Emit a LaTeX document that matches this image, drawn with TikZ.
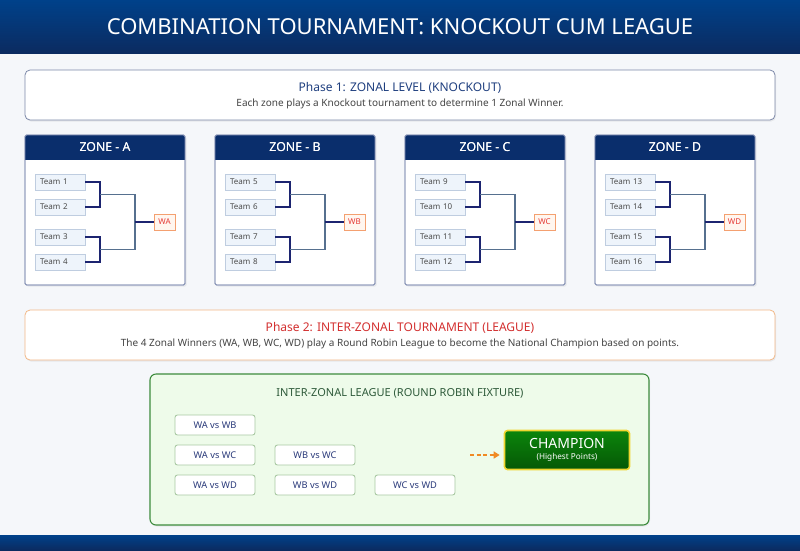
\documentclass[tikz,border=0pt]{standalone}
\usepackage{fontspec}
\setmainfont{Noto Sans}
\usetikzlibrary{arrows.meta,shadows,calc}
\definecolor{bgc}{HTML}{F5F7FA}
\definecolor{hdrtop}{HTML}{00418A}
\definecolor{hdrbot}{HTML}{0B2B60}
\definecolor{zonehdr}{HTML}{0A2E6C}
\definecolor{zoneborder}{HTML}{8A96B8}
\definecolor{phaseborder}{HTML}{7C88A8}
\definecolor{phaseblue}{HTML}{1F3F7F}
\definecolor{subgray}{HTML}{444444}
\definecolor{teamfill}{HTML}{EEF4FB}
\definecolor{teamborder}{HTML}{BFCDE0}
\definecolor{teamtext}{HTML}{4A4A4A}
\definecolor{navyline}{HTML}{1C2470}
\definecolor{slateline}{HTML}{56708F}
\definecolor{winborder}{HTML}{F4A070}
\definecolor{winfill}{HTML}{FFF6EF}
\definecolor{wintext}{HTML}{E53935}
\definecolor{p2border}{HTML}{F2B887}
\definecolor{p2red}{HTML}{D32F2F}
\definecolor{leaguefill}{HTML}{EEFBEA}
\definecolor{leagueborder}{HTML}{3D8B3D}
\definecolor{leaguetitle}{HTML}{2E5A3A}
\definecolor{matchborder}{HTML}{A9C9A3}
\definecolor{matchtext}{HTML}{2A3A7A}
\definecolor{champtop}{HTML}{0B850B}
\definecolor{champbot}{HTML}{065806}
\definecolor{champborder}{HTML}{F0D530}
\definecolor{arroworange}{HTML}{F08A24}
\tikzset{
  phasebox/.style={draw=#1, line width=0.8pt, rounded corners=5pt, fill=white,
    minimum width=750pt, minimum height=50pt, inner sep=0pt,
    drop shadow={opacity=0.12, shadow xshift=1pt, shadow yshift=-1.5pt}},
  zonebox/.style={draw=zoneborder, line width=0.9pt, rounded corners=1.5pt, fill=white,
    minimum width=160pt, minimum height=150pt, inner sep=0pt,
    drop shadow={opacity=0.12, shadow xshift=1.5pt, shadow yshift=-1.5pt}},
  zonehead/.style={fill=zonehdr, minimum width=160pt, minimum height=25pt, inner sep=0pt,
    text=white, font=\fontsize{12.3}{14}\selectfont},
  teambox/.style={draw=teamborder, fill=teamfill, line width=0.7pt, minimum width=50pt,
    minimum height=16pt, inner sep=0pt, text=teamtext, font=\fontsize{8}{9}\selectfont,
    text width=40pt, align=left},
  winbox/.style={draw=winborder, fill=winfill, line width=0.8pt, minimum width=21pt,
    minimum height=16pt, inner sep=0pt, text=wintext, font=\fontsize{8}{9}\selectfont},
  navy/.style={draw=navyline, line width=1.1pt},
  slate/.style={draw=slateline, line width=1.3pt},
  matchbox/.style={draw=matchborder, fill=white, line width=0.9pt, rounded corners=2.5pt,
    minimum width=80pt, minimum height=20pt, inner sep=0pt, text=matchtext,
    font=\fontsize{9.3}{11}\selectfont},
}
\begin{document}
\begin{tikzpicture}[x=1pt,y=-1pt]
\useasboundingbox (0,0) rectangle (800,550);
\fill[bgc] (0,0) rectangle (800,550);
% header
\shade[top color=hdrtop, bottom color=hdrbot] (0,0) rectangle (800,53);
\node[text=white, font=\fontsize{22}{25}\selectfont] (title) at (400,27) {COMBINATION TOURNAMENT: KNOCKOUT CUM LEAGUE};
% footer
\shade[top color=hdrtop, bottom color=hdrbot] (0,535) rectangle (800,550);

% phase 1
\node[phasebox=phaseborder] (phase1) at (400,95) {};
\node[text=phaseblue, font=\fontsize{12}{14}\selectfont] (p1title) at (400,88) {Phase 1: ZONAL LEVEL (KNOCKOUT)};
\node[text=subgray, font=\fontsize{10}{12}\selectfont] (p1sub) at (400,104) {Each zone plays a Knockout tournament to determine 1 Zonal Winner.};

% zones
\foreach \z/\ox/\n in {A/0/1, B/190/5, C/380/9, D/570/13}{
  \pgfmathtruncatemacro{\na}{\n}
  \pgfmathtruncatemacro{\nb}{\n+1}
  \pgfmathtruncatemacro{\nc}{\n+2}
  \pgfmathtruncatemacro{\nd}{\n+3}
  \node[zonebox] (zone\z) at (105+\ox,210) {};
  \begin{scope}
    \clip[rounded corners=1.5pt] (25+\ox,135) rectangle (185+\ox,285);
    \node[zonehead] (head\z) at (105+\ox,147.5) {ZONE - \z};
  \end{scope}
  \draw[zoneborder, line width=0.9pt, rounded corners=1.5pt] (25+\ox,135) rectangle (185+\ox,285);
  \node[zonehead, fill=none] (headtxt\z) at (105+\ox,147.5) {ZONE - \z};
  \node[teambox] (t\na) at (60+\ox,182) {Team \na};
  \node[teambox] (t\nb) at (60+\ox,207) {Team \nb};
  \node[teambox] (t\nc) at (60+\ox,237) {Team \nc};
  \node[teambox] (t\nd) at (60+\ox,262) {Team \nd};
  \node[winbox] (w\z) at (164.5+\ox,222) {W\z};
  \coordinate (ja\z) at (100+\ox,194.5);
  \coordinate (jb\z) at (100+\ox,249.5);
  \coordinate (jc\z) at (135+\ox,222);
  \draw[navy] (t\na.east) -| (ja\z) |- (t\nb.east);
  \draw[navy] (t\nc.east) -| (jb\z) |- (t\nd.east);
  \draw[slate] (ja\z) -| (jc\z) |- (jb\z);
  \draw[navy] (jc\z) -- (w\z.west);
}

% phase 2
\node[phasebox=p2border, fill=white] (phase2) at (400,335) {};
\node[text=p2red, font=\fontsize{12}{14}\selectfont] (p2title) at (400,328) {Phase 2: INTER-ZONAL TOURNAMENT (LEAGUE)};
\node[text=subgray, font=\fontsize{10}{12}\selectfont] (p2sub) at (400,344) {The 4 Zonal Winners (WA, WB, WC, WD) play a Round Robin League to become the National Champion based on points.};

% league
\node[draw=leagueborder, fill=leaguefill, line width=1.1pt, rounded corners=6pt,
  minimum width=499pt, minimum height=151pt, inner sep=0pt,
  drop shadow={opacity=0.12, shadow xshift=1pt, shadow yshift=-1.5pt}] (league) at (399.5,449.5) {};
\node[text=leaguetitle, font=\fontsize{11}{13}\selectfont] (ltitle) at (400,393) {INTER-ZONAL LEAGUE (ROUND ROBIN FIXTURE)};
\node[matchbox] (mab) at (215,425) {WA vs WB};
\node[matchbox] (mac) at (215,455) {WA vs WC};
\node[matchbox] (mad) at (215,485) {WA vs WD};
\node[matchbox] (mbc) at (315,455) {WB vs WC};
\node[matchbox] (mbd) at (315,485) {WB vs WD};
\node[matchbox] (mcd) at (415,485) {WC vs WD};
\node[draw=champborder, line width=1.6pt, rounded corners=3pt,
  top color=champtop, bottom color=champbot,
  minimum width=125pt, minimum height=39pt, inner sep=0pt, text=white, align=center]
  (champ) at (567,450) {\fontsize{14}{15}\selectfont CHAMPION\\[-1pt]\fontsize{8.2}{9}\selectfont (Highest Points)};
\coordinate (arrowtail) at (470,455);
\draw[arroworange, line width=1.6pt, dash pattern=on 4pt off 2.5pt, -{Triangle[length=6pt,width=7pt]}]
  (arrowtail) -- ($(arrowtail -| champ.west)+(-4,0)$);
\end{tikzpicture}
\end{document}
